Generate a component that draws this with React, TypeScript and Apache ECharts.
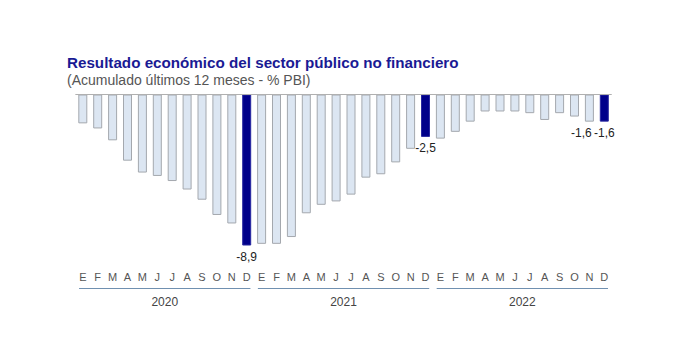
import React, { useEffect, useRef } from "react";
import * as echarts from "echarts";

const months = ["E", "F", "M", "A", "M", "J", "J", "A", "S", "O", "N", "D"];
const years = ["2020", "2021", "2022"];
const values2020 = [-1.7, -2.0, -2.7, -3.9, -4.6, -4.8, -5.1, -5.6, -6.2, -7.1, -7.6, -8.9];
const values2021 = [-8.8, -8.8, -8.4, -7.0, -6.5, -6.3, -5.9, -4.9, -4.7, -4.0, -3.2, -2.5];
const values2022 = [-2.6, -2.2, -1.6, -1.0, -1.0, -1.0, -1.1, -1.5, -1.1, -1.3, -1.6, -1.6];
const highlighted = [11, 23, 35];
const labelled = [11, 23, 34, 35];

const FONT = 'Arial, "Liberation Sans", sans-serif';

export default function App() {
  const ref = useRef<HTMLDivElement>(null);
  useEffect(() => {
    if (!ref.current) return;
    document.body.style.margin = "0";
    const chart = echarts.init(ref.current, null, { renderer: "svg" });
    const categories: string[] = [];
    years.forEach(() => months.forEach((m) => categories.push(m)));
    const all = [...values2020, ...values2021, ...values2022];
    const barData = all.map((v, i) => {
      const dark = highlighted.includes(i);
      return {
        value: v,
        itemStyle: dark
          ? { color: "#00008a", borderColor: "#2828a0", borderWidth: 1 }
          : { color: "#dce6f2", borderColor: "#a4a8ae", borderWidth: 1 },
        label: {
          show: labelled.includes(i),
          position: "bottom",
          distance: 5,
          offset: i === 34 ? [-8, 0] : [0, 0],
          formatter: (p: any) => String(p.value).replace(".", ","),
          fontSize: 12,
          color: "#222",
          fontFamily: FONT,
        },
      };
    });
    const yearData = years.map((y, k) => [k * 12, k * 12 + 11]);
    chart.setOption({
      animation: false,
      title: {
        text: "Resultado económico del sector público no financiero",
        subtext: "(Acumulado últimos 12 meses - % PBI)",
        left: 62,
        top: 50,
        itemGap: 3,
        textStyle: { fontSize: 15.2, fontWeight: "bold", color: "#1a1a94", fontFamily: FONT },
        subtextStyle: { fontSize: 14, color: "#555", fontFamily: FONT },
      },
      grid: { left: 75.35, width: 536.4, top: 94.5, bottom: 91.2, containLabel: false },
      xAxis: {
        type: "category",
        data: categories,
        axisLine: { show: false },
        axisTick: { show: false },
        axisLabel: { interval: 0, margin: 11, fontSize: 11, color: "#555", fontFamily: FONT },
      },
      yAxis: {
        type: "value",
        min: -9.8,
        max: 0,
        show: false,
        splitLine: { show: false },
      },
      series: [
        {
          type: "bar",
          data: barData,
          barWidth: 9,
          markLine: {
            silent: true,
            symbol: "none",
            label: { show: false },
            lineStyle: { color: "#b0b0b0", type: "solid", width: 1 },
            data: [{ yAxis: 0 }],
          },
        },
        {
          type: "custom",
          data: yearData,
          encode: { x: [0, 1] },
          renderItem: (params: any, api: any) => {
            const s = api.value(0);
            const e = api.value(1);
            const p0 = api.coord([s, 0]);
            const p1 = api.coord([e, 0]);
            const bw = api.size([1, 0])[0];
            const cs = params.coordSys;
            const yb = cs.y + cs.height;
            const x0 = p0[0] - bw * 0.25;
            const x1 = p1[0] + bw * 0.25;
            return {
              type: "group",
              children: [
                {
                  type: "line",
                  shape: { x1: x0, y1: yb + 27.7, x2: x1, y2: yb + 27.7 },
                  style: { stroke: "#7090b0", lineWidth: 1 },
                },
                {
                  type: "text",
                  style: {
                    text: years[params.dataIndex],
                    x: (x0 + x1) / 2,
                    y: yb + 41.5,
                    align: "center",
                    verticalAlign: "middle",
                    fontSize: 12,
                    fill: "#444",
                    fontFamily: FONT,
                  },
                },
              ],
            };
          },
        },
      ],
    });
    return () => chart.dispose();
  }, []);
  return <div ref={ref} style={{ position: "absolute", left: 0, top: 0, width: 696, height: 352 }} />;
}
